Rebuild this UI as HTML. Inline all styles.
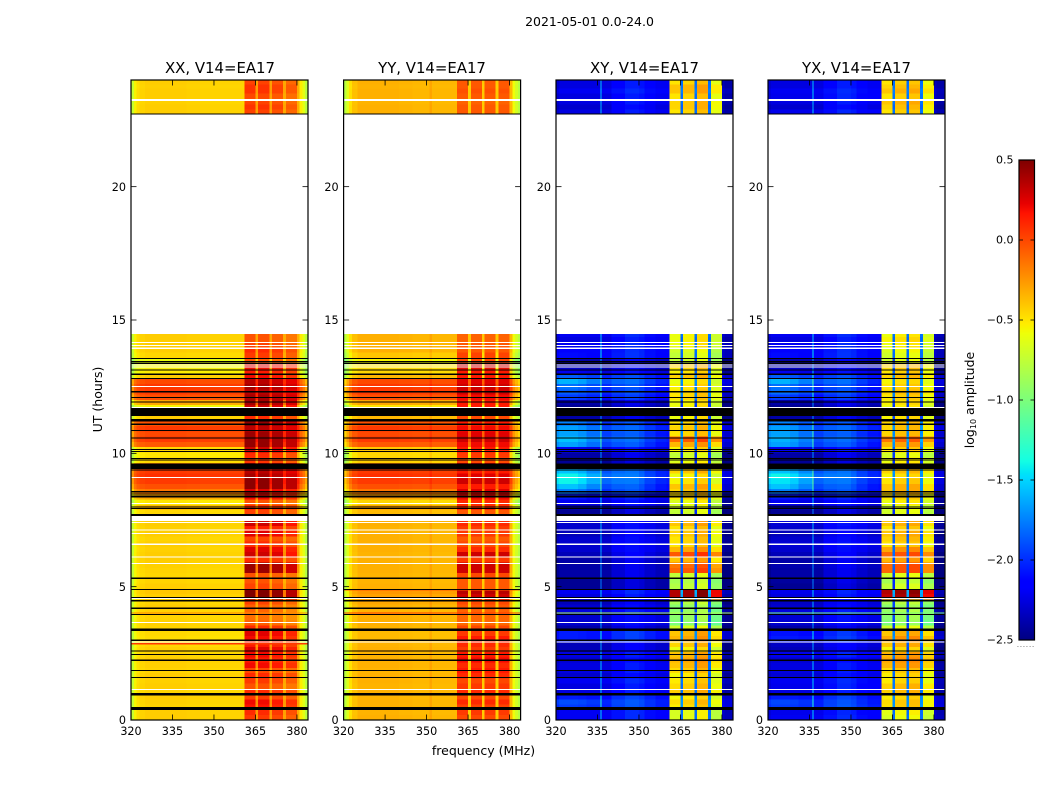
<!DOCTYPE html>
<html>
<head>
<meta charset="utf-8">
<title>2021-05-01 0.0-24.0</title>
<style>
html,body{margin:0;padding:0;background:#fff;}
svg{display:block;}
text{font-family:"DejaVu Sans","Liberation Sans",sans-serif;fill:#000;}
</style>
</head>
<body>
<svg id="fig" xmlns="http://www.w3.org/2000/svg" width="1050" height="800" viewBox="0 0 1050 800">
<text x="589.5" y="26" font-size="12.5" text-anchor="middle">2021-05-01 0.0-24.0</text>
<text x="220" y="73" font-size="14.9" text-anchor="middle">XX, V14=EA17</text>
<text x="432" y="73" font-size="14.9" text-anchor="middle">YY, V14=EA17</text>
<text x="644.5" y="73" font-size="14.9" text-anchor="middle">XY, V14=EA17</text>
<text x="856.5" y="73" font-size="14.9" text-anchor="middle">YX, V14=EA17</text>
<text x="483.5" y="755" font-size="12.5" text-anchor="middle">frequency (MHz)</text>
<text transform="translate(102,399.5) rotate(-90)" font-size="12.5" text-anchor="middle">UT (hours)</text>
<text transform="translate(974,400) rotate(-90)" font-size="12.5" text-anchor="middle">log<tspan font-size="8" dy="2">10</tspan><tspan dy="-2"> amplitude</tspan></text>
<text x="1017" y="647" font-size="6" fill="#555" textLength="17">......</text>
<g id="panels"></g>
<g id="colorbar"></g>
</svg>
<script>
// Time band edges (hours)
const bandEdgesLow = [0,.197,.394,.591,.788,.985,1.182,1.379,1.576,1.773,1.97,2.167,2.364,2.561,2.758,2.955,3.152,3.349,3.546,3.743,3.94,4.137,4.334,4.531,4.728,4.925,5.122,5.319,5.516,5.713,5.91,6.107,6.304,6.501,6.698,6.895,7.092,7.289,7.486,7.683,7.88,8.077,8.274,8.471,8.668,8.865,9.062,9.259,9.456,9.653,9.85,10.047,10.244,10.441,10.638,10.835,11.032,11.229,11.426,11.623,11.82,12.017,12.214,12.411,12.608,12.805,13.002,13.199,13.396,13.593,13.79,13.987,14.184,14.381,14.47];
const bandEdgesHigh = [22.72,22.9,23.1,23.3,23.5,23.7,23.85,24];
// Frequency segment edges (MHz)
const freqEdges = [320,321,322,323,325,328,331,336,336.4,340,345,350,351,352,356,360,361,365,366,370,371,375,376,380,381,382,383,384];
// Log10 amplitude per time band: outside the 361-380 MHz block
const lowXX = [-.42,-.42,-.44,-.43,-.42,-.44,-.42,-.43,-.42,-.44,
 -.43,-.42,-.44,-.43,-.45,-.47,-.46,-.44,-.43,-.44,
 -.43,-.42,-.44,-.42,-.40,-.42,-.44,-.45,-.44,-.43,
 -.42,-.42,-.43,-.42,-.44,-.42,-.43,-.42,
 -.42,-.45,-.36,-.5,-.3,-.15,-.02,.05,
 .08,.05,-.2,-.45,-.5,-.45,-.05,.05,
 0,.05,-.02,-.42,-.3,-.55,-.3,-.02,
 .05,.06,0,-.42,-.52,-.55,-.6,-.45,
 -.42,-.42,-.42,-.42,
 -.42,-.42,-.43,-.42,-.42,-.43,-.42];
const lowYY = [-.33,-.34,-.33,-.33,-.34,-.33,-.34,-.33,-.33,-.34,
 -.33,-.33,-.34,-.33,-.34,-.36,-.36,-.34,-.33,-.33,
 -.34,-.33,-.3,-.28,-.25,-.33,-.34,-.34,-.33,-.33,
 -.33,-.34,-.33,-.33,-.33,-.33,-.34,-.33,
 -.33,-.36,-.3,-.45,-.28,-.15,-.02,.05,
 .08,.05,-.2,-.42,-.45,-.4,-.05,.05,
 0,.05,-.02,-.35,-.3,-.5,-.3,-.02,
 .05,.06,0,-.35,-.45,-.48,-.55,-.4,
 -.33,-.33,-.33,-.33,
 -.33,-.33,-.34,-.33,-.33,-.34,-.33];
const lowXY = [-2.1,-2.1,-2.0,-2.0,-2.05,-2.15,-2.15,-2.1,-2.2,-2.15,
 -2.15,-2.2,-2.15,-2.25,-2.25,-2.05,-2.05,-2.3,-2.2,-2.2,
 -2.15,-2.2,-2.25,-2.15,-2.1,-2.35,-2.35,-2.3,-2.3,-2.3,
 -2.3,-2.25,-2.2,-2.2,-2.2,-2.25,-2.2,-2.2,
 -2.2,-2.35,-2.3,-2.2,-2.15,-2.05,-2.05,-2.0,
 -2.0,-2.0,-2.3,-2.35,-2.3,-2.2,-2.05,-2.0,
 -2.05,-2.0,-2.05,-2.3,-2.35,-2.35,-2.3,-2.1,
 -2.05,-2.05,-2.0,-2.05,-2.2,-2.3,-2.3,-2.1,
 -2.1,-2.1,-2.15,-2.1,
 -2.15,-2.2,-2.15,-2.15,-2.1,-2.15,-2.15];
const lowYX = [-2.1,-2.12,-2.0,-2.02,-2.05,-2.15,-2.12,-2.1,-2.18,-2.15,
 -2.15,-2.2,-2.12,-2.25,-2.22,-2.05,-2.08,-2.3,-2.2,-2.18,
 -2.15,-2.2,-2.22,-2.15,-2.12,-2.35,-2.32,-2.3,-2.3,-2.28,
 -2.3,-2.25,-2.2,-2.18,-2.2,-2.25,-2.2,-2.18,
 -2.2,-2.35,-2.3,-2.2,-2.15,-2.05,-2.05,-2.0,
 -2.0,-2.0,-2.3,-2.35,-2.3,-2.2,-2.05,-2.0,
 -2.05,-2.0,-2.05,-2.3,-2.35,-2.35,-2.3,-2.1,
 -2.05,-2.05,-2.0,-2.05,-2.2,-2.3,-2.3,-2.1,
 -2.1,-2.1,-2.15,-2.1,
 -2.12,-2.2,-2.15,-2.12,-2.1,-2.15,-2.15];
// Log10 amplitude per time band: inside the 361-380 MHz block
const highXX = [0,.05,.12,.15,0,.05,-.08,0,.05,-.05,
 .15,.1,.15,.2,.1,.15,.2,.05,-.12,-.17,
 -.14,-.12,-.03,.45,.45,-.03,-.08,-.08,.38,.38,
 .05,.25,.2,.05,-.03,.2,.1,.25,
 0,-.03,.05,-.08,.15,.2,.42,.42,
 .35,.3,.3,.02,.05,.25,.4,.4,
 .38,.3,.4,.05,.3,.25,.35,.35,
 .3,.35,.3,.15,.1,.2,-.08,0,
 .05,-.03,-.08,-.08,
 -.03,.02,-.03,-.05,.02,.02,-.03];
const highYY = [0,.05,.02,.1,0,.1,.05,0,.1,.15,
 .1,.2,.15,.05,.1,.15,.05,0,-.1,-.1,
 -.08,-.05,0,.3,.35,-.05,-.05,0,.3,.3,
 .05,.3,.1,0,-.05,.05,.05,.1,
 0,-.05,.1,.1,.2,.25,.15,.3,
 .25,.15,.25,0,.05,.15,.2,.3,
 .25,.2,.15,0,.2,.15,.15,.2,
 .3,.3,.25,.15,.15,.3,0,.02,
 -.05,-.05,-.08,-.08,
 -.05,-.05,-.08,-.05,-.02,-.05,-.05];
const highXY = [-.62,-.62,-.47,-.42,-.52,-.38,-.42,-.47,-.52,-.42,
 -.35,-.3,-.35,-.55,-.4,-.3,-.35,-.65,-.95,-.9,
 -.9,-.9,-.8,.42,.42,-.75,-.8,-.7,-.05,-.1,
 -.35,0,-.3,-.45,-.45,-.4,-.45,-.35,
 -.55,-.7,-.65,-.6,-.45,-.4,-.35,-.5,
 -.55,-.4,-.45,-.6,-.7,-.5,-.3,-.05,
 -.45,-.4,-.45,-.55,-.55,-.55,-.55,-.45,
 -.45,-.5,-.55,-.4,-.5,-.4,-.7,-.7,
 -.65,-.55,-.55,-.55,
 -.45,-.4,-.4,-.45,-.35,-.35,-.45];
const highYX = [-.62,-.58,-.43,-.42,-.48,-.38,-.38,-.47,-.48,-.42,
 -.3,-.25,-.3,-.5,-.35,-.25,-.35,-.65,-.95,-.9,
 -.85,-.9,-.8,.38,.42,-.7,-.8,-.65,-.05,-.05,
 -.3,-.05,-.25,-.45,-.4,-.35,-.45,-.35,
 -.55,-.65,-.65,-.55,-.45,-.35,-.35,-.45,
 -.5,-.4,-.45,-.55,-.65,-.45,-.3,-.1,
 -.4,-.4,-.4,-.5,-.55,-.55,-.5,-.45,
 -.4,-.45,-.5,-.4,-.45,-.4,-.65,-.65,
 -.6,-.55,-.5,-.55,
 -.45,-.4,-.35,-.45,-.35,-.4,-.45];
// Extra brightening near the band's low-frequency end (cross-hands)
const glowNone = [0];
const glowXY = [0,0,.15,.2,.1,0,0,0,0,0,
 0,0,0,0,0,.1,.1,0,0,0,
 0,0,0,0,0,0,0,0,0,0,
 0,0,0,0,0,0,0,0,
 0,0,0,.1,.2,.4,.6,.7,
 .7,.55,0,0,0,.1,.5,.55,
 .5,.45,.4,0,0,0,0,.25,
 .3,.35,.5,.3,.1,0,0,.1,
 .05,0,0,0,
 0,0,0,0,0,0,0];
const glowYX = [0,0,.15,.2,.1,0,0,0,0,0,
 0,0,0,0,0,.1,.1,0,0,0,
 0,0,0,0,0,0,0,0,0,0,
 0,0,0,0,0,0,0,0,
 0,0,0,.1,.2,.4,.6,.65,
 .7,.55,0,0,0,.1,.5,.5,
 .5,.45,.4,0,0,0,0,.25,
 .35,.35,.5,.3,.1,0,0,.1,
 .05,0,0,0,
 0,0,0,0,0,0,0];
// Per-segment blend toward the block level
const blockMixXX = [0,0,0,0,0,0,0,0,0,0,0,0,0,0,0,0,1,.35,1,.35,1,.3,.95,.25,0,0,0];
const blockMixYY = [0,0,0,0,0,0,0,0,0,0,0,0,0,0,0,0,1,0,1,0,1,0,1,.1,0,0,0];
const blockMixXY = [0,0,0,0,0,0,0,0,0,0,0,0,0,0,0,0,1,.2,1,.2,1,.2,.95,0,0,0,0];
// Per-segment spectral offset (dex)
const specXX = [-.3,-.12,-.05,-.02,0,0,0,0,0,-.01,-.02,-.02,-.02,-.02,-.02,-.02,.05,0,.05,0,0,0,-.05,0,-.1,-.2,-.35];
const specYY = [-.45,-.3,-.15,-.05,0,0,0,0,0,-.01,-.02,-.02,.04,-.02,-.02,-.02,0,-.08,0,-.08,0,-.08,0,-.05,-.25,-.35,-.45];
const specXY = [-.15,-.1,-.1,-.1,-.1,-.1,-.1,.6,-.1,.02,.1,.07,.07,0,-.05,-.05,-.05,0,0,0,.08,0,-.08,-.2,-.25,-.25,-.25];
const specYX = [-.15,-.1,-.1,-.1,-.1,-.1,-.1,.6,-.1,.02,.1,.07,.07,0,-.05,-.05,-.05,0,.02,0,.05,0,-.05,-.2,-.25,-.25,-.25];
const glowShape = [1,1,1,1,1,.9,.7,.5,.4,.3,.2,.15,.15,.1,.05,0,0,0,0,0,0,0,0,0,0,0,0];
// Narrow time stripes (hours) and their level in each panel
const stripeHours = [4.0,2.85,4.88];
const stripeXX = [-.2,.05,null];
const stripeYY = [.05,null,-.05];
const stripeXY = [-.8,null,null];
const stripeYX = [-1.0,null,null];
// Flagged integrations (hour ranges)
const flaggedBlack = [[.37,.48],[.91,1.01],[1.58,1.62],[1.83,1.87],[2.22,2.26],[2.44,2.48],[2.57,2.61],[2.97,3.01],[3.34,3.44],[3.93,3.97],[4.17,4.21],[4.44,4.5],[4.58,4.62],[4.88,4.92],[5.295,5.335],[7.65,7.725],[7.905,7.945],[7.97,8.01],[8.35,8.42],[8.455,8.495],[8.54,8.58],[9.355,9.395],[9.41,9.626],[9.73,9.77],[9.78,9.82],[10.05,10.09],[10.13,10.17],[10.555,10.595],[10.84,10.88],[11.07,11.11],[11.19,11.29],[11.4,11.7],[11.905,11.945],[12.08,12.12],[12.29,12.33],[12.78,12.82],[12.945,12.985],[13.105,13.145],[13.35,13.39],[13.415,13.455],[13.53,13.57]];
const flaggedWhite = [[23.21,23.29],[14.14,14.18],[14.03,14.07],[13.92,13.96],[13.3,13.34],[13.22,13.26],[12.49,12.53],[11.7,11.74],[9.07,9.11],[8.105,8.145],[7.46,7.65],[7.39,7.43],[7.105,7.145],[6.98,7.02],[6.57,6.61],[6.09,6.13],[5.855,5.895],[4.535,4.575],[3.64,3.68],[2.905,2.945],[1.13,1.17]];
// Axis ticks
const xTicks = [320,335,350,365,380];
const yTicks = [0,5,10,15,20];
const cbarTicks = [0.5,0,-0.5,-1,-1.5,-2,-2.5];
const cbarLabels = ['0.5','0.0','\u22120.5','\u22121.0','\u22121.5','\u22122.0','\u22122.5'];

const NS = 'http://www.w3.org/2000/svg';
const PX_PER_MHZ = 177 / 64;
const top0 = 80, bottom0 = 720, HMAX = 24;
const yScale = function (h) { return bottom0 - (h / HMAX) * (bottom0 - top0); };
const cbarY = function (v) { return 640 - (v + 2.5) / 3 * 480; };

function ramp(t, pts) {
  for (let i = 1; i < pts.length; i++) {
    if (t <= pts[i][0]) {
      const a = pts[i - 1], b = pts[i];
      return a[1] + (b[1] - a[1]) * (t - a[0]) / (b[0] - a[0]);
    }
  }
  return pts[pts.length - 1][1];
}
function jet(v) {
  const t = Math.max(0, Math.min(1, (v + 2.5) / 3));
  const r = ramp(t, [[0, 0], [.35, 0], [.66, 1], [.89, 1], [1, .5]]);
  const g = ramp(t, [[0, 0], [.125, 0], [.375, 1], [.64, 1], [.91, 0], [1, 0]]);
  const b = ramp(t, [[0, .5], [.11, 1], [.34, 1], [.65, 0], [1, 0]]);
  return 'rgb(' + Math.round(r * 255) + ',' + Math.round(g * 255) + ',' + Math.round(b * 255) + ')';
}
function mk(parent, tag, attrs) {
  const el = document.createElementNS(NS, tag);
  for (const k in attrs) el.setAttribute(k, attrs[k]);
  parent.appendChild(el);
  return el;
}

const bandStarts = bandEdgesLow.slice(0, -1).concat(bandEdgesHigh.slice(0, -1));
const bandEnds = bandEdgesLow.slice(1).concat(bandEdgesHigh.slice(1));

const panelDefs = [
  { id: 'xx', left: 131, low: lowXX, high: highXX, glow: glowNone, mix: blockMixXX, spec: specXX, stripe: stripeXX },
  { id: 'yy', left: 343.6, low: lowYY, high: highYY, glow: glowNone, mix: blockMixYY, spec: specYY, stripe: stripeYY },
  { id: 'xy', left: 556, low: lowXY, high: highXY, glow: glowXY, mix: blockMixXY, spec: specXY, stripe: stripeXY },
  { id: 'yx', left: 768, low: lowYX, high: highYX, glow: glowYX, mix: blockMixXY, spec: specYX, stripe: stripeYX }
];

const panelsRoot = document.getElementById('panels');
panelDefs.forEach(function (p) {
  const xScale = function (f) { return p.left + (f - 320) * PX_PER_MHZ; };
  const g = mk(panelsRoot, 'g', {});
  
  
  const cells = mk(g, 'g', { 'shape-rendering': 'crispEdges' });
  
  
  bandStarts.forEach(function (start, r) {
    const y0 = yScale(bandEnds[r]), y1 = yScale(start);
    for (let s = 0; s < freqEdges.length - 1; s++) {
      const glowVal = p.glow[r] || 0;
      const v = p.low[r] + (p.high[r] - p.low[r]) * p.mix[s] + p.spec[s] + glowVal * glowShape[s];
      const x0 = xScale(freqEdges[s]), x1 = xScale(freqEdges[s + 1]);
      const cell = mk(cells, 'rect', { x: x0.toFixed(2), y: y0.toFixed(2), width: (x1 - x0 + .3).toFixed(2), height: (y1 - y0 + .3).toFixed(2), fill: jet(v) });
      
      
    }
  });
  stripeHours.forEach(function (h, i) {
    if (p.stripe[i] === null) return;
    const st = mk(cells, 'rect', { x: xScale(320), y: yScale(h + .03).toFixed(2), width: 177, height: 1.2, fill: jet(p.stripe[i]) });
    
    
  });
  flaggedWhite.forEach(function (f) {
    const w = mk(cells, 'rect', { x: xScale(320), y: yScale(f[1]).toFixed(2), width: 177, height: (yScale(f[0]) - yScale(f[1])).toFixed(2), fill: '#fff' });
    
    
  });
  flaggedBlack.forEach(function (f) {
    const b = mk(cells, 'rect', { x: xScale(320), y: yScale(f[1]).toFixed(2), width: 177, height: (yScale(f[0]) - yScale(f[1])).toFixed(2), fill: '#000' });
    
    
  });
  const edge = mk(g, 'line', { x1: p.left, x2: p.left + 177, y1: 114, y2: 114, stroke: '#000', 'stroke-width': 1 });
  
  
  xTicks.forEach(function (t) {
    const x = xScale(t);
    [[top0, top0 + 5.5], [bottom0, bottom0 - 5.5]].forEach(function (e) {
      const tk = mk(g, 'line', { x1: x, x2: x, y1: e[0], y2: e[1], stroke: '#000', 'stroke-width': .8 });
      
      
    });
    const lb = mk(g, 'text', { x: x, y: 735, 'font-size': 11.2, 'text-anchor': 'middle' });
    
    
    lb.textContent = t;
  });
  yTicks.forEach(function (t) {
    const y = yScale(t);
    [[p.left, p.left + 5.5], [p.left + 177, p.left + 171.5]].forEach(function (e) {
      const tk = mk(g, 'line', { x1: e[0], x2: e[1], y1: y, y2: y, stroke: '#000', 'stroke-width': .8 });
      
      
    });
    const lb = mk(g, 'text', { x: p.left - 5, y: y + 4.2, 'font-size': 11.2, 'text-anchor': 'end' });
    
    
    lb.textContent = t;
  });
  const frame = mk(g, 'rect', { x: p.left, y: top0, width: 177, height: 640, fill: 'none', stroke: '#000', 'stroke-width': 1.2 });
  
  
});

const cb = document.getElementById('colorbar');
const cbCells = mk(cb, 'g', { 'shape-rendering': 'crispEdges' });


for (let i = 0; i < 240; i++) {
  const v = -2.5 + (i + .5) / 240 * 3;
  const c = mk(cbCells, 'rect', { x: 1019, y: 640 - (i + 1) * 2, width: 15.5, height: 2.3, fill: jet(v) });
  
  
}
cbarTicks.forEach(function (t, i) {
  const y = cbarY(t);
  [[1019, 1023], [1034.5, 1030.5]].forEach(function (e) {
    const tk = mk(cb, 'line', { x1: e[0], x2: e[1], y1: y, y2: y, stroke: '#000', 'stroke-width': .8 });
    
    
  });
  const lb = mk(cb, 'text', { x: 1013.5, y: y + 3.5, 'font-size': 11, 'text-anchor': 'end' });
  
  
  lb.textContent = cbarLabels[i];
});
const cbFrame = mk(cb, 'rect', { x: 1019, y: 160, width: 15.5, height: 480, fill: 'none', stroke: '#000', 'stroke-width': 1.2 });


</script>
</body>
</html>
